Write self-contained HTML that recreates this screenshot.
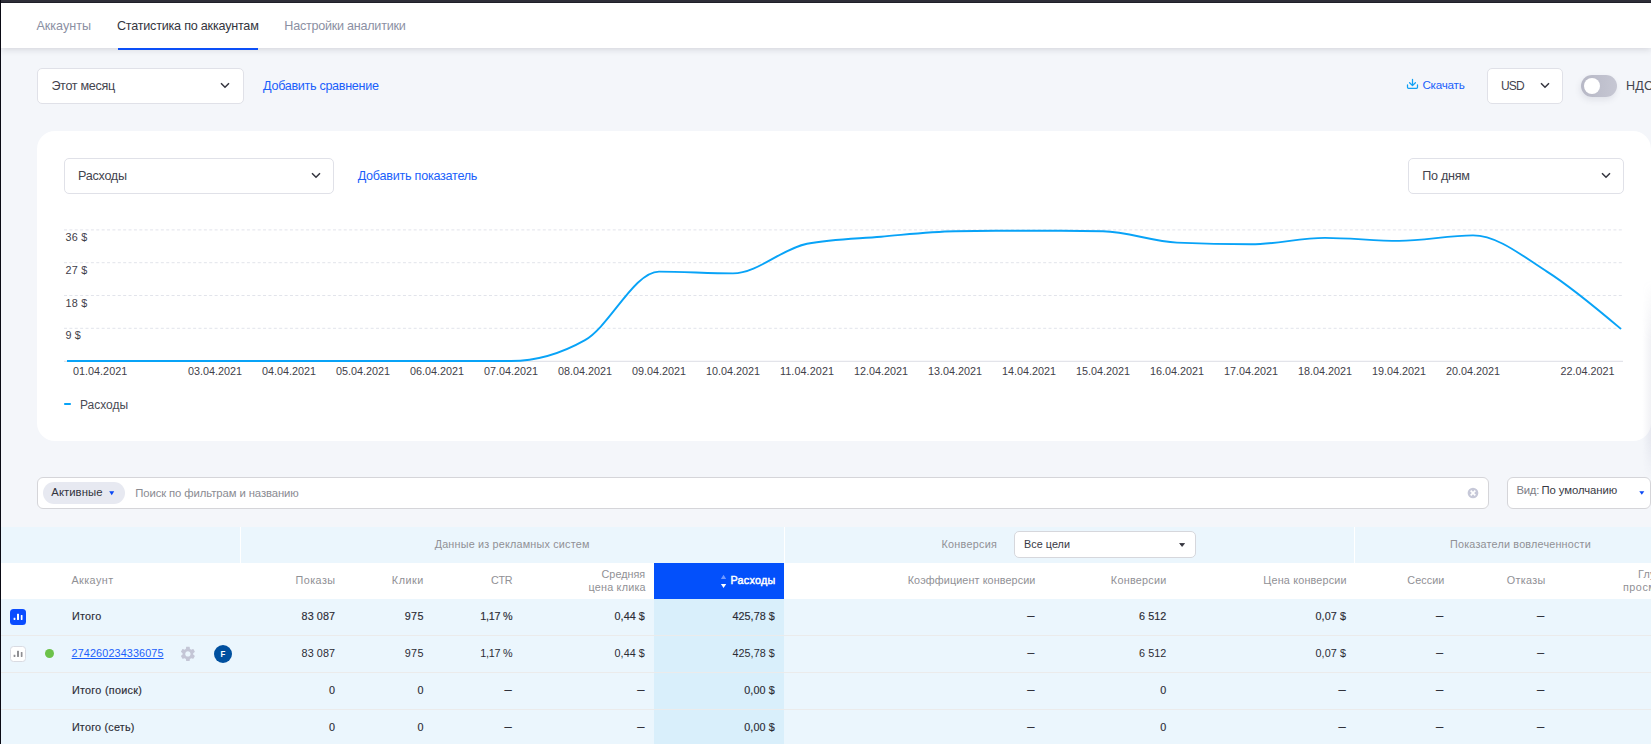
<!DOCTYPE html>
<html lang="ru"><head><meta charset="utf-8"><title>Статистика по аккаунтам</title>
<style>
html,body{margin:0;padding:0}
body{width:1651px;height:744px;overflow:hidden;position:relative;background:#f4f6fa;font-family:"Liberation Sans",sans-serif;}
.a{position:absolute;display:block}
.t{position:absolute;white-space:nowrap;line-height:1;}
.box{position:absolute;box-sizing:border-box;background:#fff;border:1px solid #e0e1e8;border-radius:5px}
</style></head><body>
<!-- chrome -->
<div class="a" style="left:1px;top:3px;width:1650px;height:45px;background:#fff;box-shadow:0 1px 7px rgba(30,30,45,.17)"></div>
<div class="a" style="left:0;top:0;width:1651px;height:2px;background:#2e2e38"></div>
<div class="a" style="left:0;top:2px;width:1651px;height:1px;background:#1f1f29"></div>
<div class="a" style="left:0;top:0;width:1px;height:744px;background:#0a0a14"></div>
<div class="a" style="left:117.5px;top:48px;width:140.5px;height:2px;background:#0c4ff7"></div>
<!-- toolbar -->
<div class="box" style="left:37px;top:68px;width:207px;height:36px"></div>
<svg class="a" style="left:220.1px;top:82.3px" width="10" height="7" viewBox="0 0 10 7"><path d="M1 1.2 L5 5.2 L9 1.2" fill="none" stroke="#33343e" stroke-width="1.5" stroke-linecap="butt" stroke-linejoin="miter"/></svg>
<div class="box" style="left:1487px;top:68px;width:76px;height:36px"></div>
<svg class="a" style="left:1539.5px;top:82.3px" width="10" height="7" viewBox="0 0 10 7"><path d="M1 1.2 L5 5.2 L9 1.2" fill="none" stroke="#33343e" stroke-width="1.5" stroke-linecap="butt" stroke-linejoin="miter"/></svg>
<svg class="a" style="left:1406px;top:78px" width="13" height="12" viewBox="0 0 13 12"><path d="M6.5 1.3 V7.3 M3.6 4.7 L6.5 7.6 L9.4 4.7 M1.5 6.9 V9.3 Q1.5 10.3 2.5 10.3 H10.5 Q11.5 10.3 11.5 9.3 V6.9" fill="none" stroke="#10a0f4" stroke-width="1.25" stroke-linecap="round" stroke-linejoin="round"/></svg>
<div class="a" style="left:1581px;top:75px;width:36px;height:22px;border-radius:11px;background:linear-gradient(90deg,#b7b8c6,#c6c7d3);box-shadow:-1px 3px 6px rgba(60,60,90,.10)"></div>
<div class="a" style="left:1584px;top:78px;width:16px;height:16px;border-radius:50%;background:#fff"></div>
<!-- card -->
<div class="a" style="left:37px;top:131px;width:1614px;height:310px;border-radius:18px;background:#fff"></div>
<div class="a" style="left:1642px;top:280px;width:9px;height:200px;background:linear-gradient(90deg,rgba(120,125,160,0),rgba(120,125,160,.10));-webkit-mask-image:linear-gradient(180deg,transparent 0,#000 30%,#000 80%,transparent 100%)"></div>
<div class="box" style="left:64px;top:158px;width:270px;height:36px"></div>
<svg class="a" style="left:310.5px;top:172.3px" width="10" height="7" viewBox="0 0 10 7"><path d="M1 1.2 L5 5.2 L9 1.2" fill="none" stroke="#33343e" stroke-width="1.5" stroke-linecap="butt" stroke-linejoin="miter"/></svg>
<div class="box" style="left:1408px;top:158px;width:216px;height:36px"></div>
<svg class="a" style="left:1600.5px;top:172.3px" width="10" height="7" viewBox="0 0 10 7"><path d="M1 1.2 L5 5.2 L9 1.2" fill="none" stroke="#33343e" stroke-width="1.5" stroke-linecap="butt" stroke-linejoin="miter"/></svg>
<svg class="a" style="left:0;top:0" width="1651" height="744" viewBox="0 0 1651 744">
<g stroke="#e2e4eb" stroke-width="1" stroke-dasharray="3 2.38"><line x1="64" x2="1623" y1="229.90" y2="229.90"/><line x1="64" x2="1623" y1="262.70" y2="262.70"/><line x1="64" x2="1623" y1="295.50" y2="295.50"/><line x1="64" x2="1623" y1="328.30" y2="328.30"/></g>
<line x1="64" x2="1623" y1="361.3" y2="361.3" stroke="#e3e4ea" stroke-width="1.3"/>
<path d="M67.00,361.00C91.67,361.00,116.33,361.00,141.00,361.00C165.67,361.00,190.33,361.00,215.00,361.00C239.67,361.00,264.33,361.00,289.00,361.00C313.67,361.00,338.33,361.00,363.00,361.00C387.67,361.00,412.33,361.00,437.00,361.00C461.67,361.00,486.33,361.00,511.00,361.00C535.67,361.00,560.33,354.03,585.00,340.10C609.67,326.17,634.33,271.60,659.00,271.60C683.67,271.60,708.33,273.40,733.00,273.40C757.67,273.40,782.33,248.37,807.00,243.70C831.67,239.03,856.33,238.78,881.00,236.70C905.67,234.62,930.33,231.53,955.00,231.20C979.67,230.87,1004.33,230.70,1029.00,230.70C1053.67,230.70,1078.33,230.90,1103.00,231.30C1127.67,231.70,1152.33,241.47,1177.00,242.60C1201.67,243.73,1226.33,244.30,1251.00,244.30C1275.67,244.30,1300.33,237.90,1325.00,237.90C1349.67,237.90,1374.33,240.90,1399.00,240.90C1423.67,240.90,1448.33,235.40,1473.00,235.40C1497.67,235.40,1522.33,256.00,1547.00,271.60C1571.67,287.20,1596.33,308.10,1621.00,329.00" fill="none" stroke="#08a3f7" stroke-width="1.9" stroke-linejoin="round"/>
<rect x="64.2" y="403" width="6.6" height="2" fill="#08a3f7"/>
</svg>
<!-- search -->
<div class="box" style="left:37px;top:477px;width:1452px;height:32px;border-color:#d5d5d9;border-radius:6px"></div>
<div class="a" style="left:43px;top:482px;width:82px;height:22px;border-radius:11px;background:#e7e9f1"></div>
<svg class="a" style="left:109px;top:490.8px" width="6" height="5" viewBox="0 0 6 5"><path d="M0.2 0.2 H5.2 L2.7 4.3 Z" fill="#0a48f5"/></svg>
<svg class="a" style="left:1466.5px;top:487px" width="12" height="12" viewBox="0 0 12 12"><circle cx="6" cy="6" r="5.35" fill="#c6c8d8"/><path d="M3.7 3.7 L8.3 8.3 M8.3 3.7 L3.7 8.3" stroke="#fff" stroke-width="1.75" stroke-linecap="butt"/></svg>
<div class="box" style="left:1507px;top:477px;width:143.6px;height:32px;border-color:#d5d5d9;border-radius:6px"></div>
<svg class="a" style="left:1638.7px;top:491px" width="6" height="4" viewBox="0 0 6 4"><path d="M0.3 0.2 H5.3 L2.8 3.7 Z" fill="#0a48f5"/></svg>
<!-- table -->
<div class="a" style="left:1px;top:527px;width:1650px;height:35.7px;background:#ebf6fd"></div>
<div class="a" style="left:240px;top:527px;width:1.3px;height:36px;background:#fff"></div>
<div class="a" style="left:783.7px;top:527px;width:1.3px;height:36px;background:#fff"></div>
<div class="a" style="left:1354px;top:527px;width:1.3px;height:36px;background:#fff"></div>
<div class="a" style="left:1px;top:562.7px;width:1650px;height:36.1px;background:#fff"></div>
<div class="a" style="left:1px;top:599px;width:1650px;height:145px;background:#ebf6fd"></div>
<div class="a" style="left:654px;top:599px;width:130px;height:145px;background:#d9effb"></div>
<div class="a" style="left:654px;top:563px;width:130px;height:36px;background:#0350fb"></div>
<div class="a" style="left:1px;top:635px;width:1650px;height:1px;background:#ebebeb"></div>
<div class="a" style="left:1px;top:672px;width:1650px;height:1px;background:#ebebeb"></div>
<div class="a" style="left:1px;top:709px;width:1650px;height:1px;background:#ebebeb"></div>
<div class="box" style="left:1014px;top:531px;width:182px;height:26.8px;border-color:#d6d7dc;border-radius:5px"></div>
<svg class="a" style="left:1179px;top:542.6px" width="7" height="4" viewBox="0 0 7 4"><path d="M0.7 0.5 H5.5 L3.1 3.4 Z" fill="#33343e" stroke="#33343e" stroke-width=".8" stroke-linejoin="round"/></svg>
<svg class="a" style="left:720px;top:574px" width="7" height="15" viewBox="0 0 7 15"><path d="M0.9 4.9 L3.55 0.8 L6.2 4.9 Z" fill="#7099ff"/><path d="M0.9 10.1 L6.2 10.1 L3.55 14.1 Z" fill="#fff"/></svg>
<!-- row icons -->
<div class="a" style="left:10px;top:609px;width:16px;height:16px;border-radius:3.5px;background:#0a4cff"></div>
<svg class="a" style="left:10px;top:609px" width="16" height="16" viewBox="0 0 16 16"><g fill="#fff"><rect x="3.6" y="8.8" width="1.8" height="2.1" rx=".3"/><rect x="7" y="4.7" width="2" height="6.2" rx=".4"/><rect x="10.8" y="5.9" width="1.7" height="5" rx=".4"/></g></svg>
<div class="a" style="left:10px;top:646px;width:16px;height:16px;border-radius:3.5px;background:#fff;box-sizing:border-box;border:1px solid #d9dbe2"></div>
<svg class="a" style="left:10px;top:646px" width="16" height="16" viewBox="0 0 16 16"><g fill="#8f8f93"><rect x="3.6" y="8.8" width="1.8" height="2.1" rx=".3"/><rect x="7" y="4.7" width="2" height="6.2" rx=".4"/><rect x="10.8" y="5.9" width="1.7" height="5" rx=".4"/></g></svg>
<div class="a" style="left:45px;top:649px;width:9px;height:9px;border-radius:50%;background:#6cc24a"></div>
<svg class="a" style="left:179.3px;top:645.1px" width="17.8" height="17.8" viewBox="0 0 24 24"><path fill="#c4c6d6" d="M19.14 12.94c.04-.3.06-.61.06-.94 0-.32-.02-.64-.07-.94l2.03-1.58a.49.49 0 0 0 .12-.61l-1.92-3.32a.488.488 0 0 0-.59-.22l-2.39.96c-.5-.38-1.03-.7-1.62-.94l-.36-2.54a.484.484 0 0 0-.48-.41h-3.84c-.24 0-.43.17-.47.41l-.36 2.54c-.59.24-1.13.57-1.62.94l-2.39-.96c-.22-.08-.47 0-.59.22L2.74 8.87c-.12.21-.08.47.12.61l2.03 1.58c-.05.3-.09.63-.09.94s.02.64.07.94l-2.03 1.58a.49.49 0 0 0-.12.61l1.92 3.32c.12.22.37.29.59.22l2.39-.96c.5.38 1.03.7 1.62.94l.36 2.54c.05.24.24.41.48.41h3.84c.24 0 .44-.17.47-.41l.36-2.54c.59-.24 1.13-.56 1.62-.94l2.39.96c.22.08.47 0 .59-.22l1.92-3.32c.12-.22.07-.47-.12-.61l-2.01-1.58zM12 15.6c-1.98 0-3.6-1.62-3.6-3.6s1.62-3.600 3.6-3.600 3.600 1.620 3.600 3.600-1.620 3.600-3.600 3.600z"/></svg>
<div class="a" style="left:214px;top:644.8px;width:18px;height:18px;border-radius:50%;background:#00509f"></div>
<span class="t" style="font-size:12.6px;top:20.00px;color:#8b90a3;letter-spacing:0.007px;left:36.40px;">Аккаунты</span>
<span class="t" style="font-size:12.6px;top:20.00px;color:#34353e;letter-spacing:-0.216px;left:116.90px;">Статистика по аккаунтам</span>
<span class="t" style="font-size:12.6px;top:20.00px;color:#8b90a3;letter-spacing:-0.250px;left:284.30px;">Настройки аналитики</span>
<span class="t" style="font-size:12.6px;top:80.00px;color:#43444e;letter-spacing:-0.327px;left:51.40px;">Этот месяц</span>
<span class="t" style="font-size:12.6px;top:80.00px;color:#1a5ffb;letter-spacing:-0.312px;left:263.10px;">Добавить сравнение</span>
<span class="t" style="font-size:11.7px;top:78.95px;color:#1a5ffb;letter-spacing:-0.233px;left:1422.40px;">Скачать</span>
<span class="t" style="font-size:12px;top:80.30px;color:#43444e;letter-spacing:-0.815px;left:1500.90px;">USD</span>
<span class="t" style="font-size:12.6px;top:80.00px;color:#43444e;letter-spacing:0.160px;left:1626.10px;">НДС</span>
<span class="t" style="font-size:12.6px;top:170.00px;color:#43444e;letter-spacing:-0.283px;left:78.10px;">Расходы</span>
<span class="t" style="font-size:12.6px;top:170.00px;color:#1a5ffb;letter-spacing:-0.251px;left:357.70px;">Добавить показатель</span>
<span class="t" style="font-size:12.6px;top:170.00px;color:#43444e;letter-spacing:-0.249px;left:1422.20px;">По дням</span>
<span class="t" style="font-size:10.8px;top:231.90px;color:#3f4049;letter-spacing:0.246px;left:65.40px;">36 $</span>
<span class="t" style="font-size:10.8px;top:264.90px;color:#3f4049;letter-spacing:0.246px;left:65.40px;">27 $</span>
<span class="t" style="font-size:10.8px;top:297.90px;color:#3f4049;letter-spacing:0.246px;left:65.40px;">18 $</span>
<span class="t" style="font-size:10.8px;top:329.90px;color:#3f4049;letter-spacing:0.161px;left:65.40px;">9 $</span>
<span class="t" style="font-size:10.8px;top:365.90px;color:#3f4049;letter-spacing:0.015px;left:73.00px;">01.04.2021</span>
<span class="t" style="font-size:10.8px;top:365.90px;color:#3f4049;letter-spacing:0.015px;left:187.90px;">03.04.2021</span>
<span class="t" style="font-size:10.8px;top:365.90px;color:#3f4049;letter-spacing:0.015px;left:261.90px;">04.04.2021</span>
<span class="t" style="font-size:10.8px;top:365.90px;color:#3f4049;letter-spacing:0.015px;left:335.90px;">05.04.2021</span>
<span class="t" style="font-size:10.8px;top:365.90px;color:#3f4049;letter-spacing:0.015px;left:409.90px;">06.04.2021</span>
<span class="t" style="font-size:10.8px;top:365.90px;color:#3f4049;letter-spacing:0.015px;left:483.90px;">07.04.2021</span>
<span class="t" style="font-size:10.8px;top:365.90px;color:#3f4049;letter-spacing:0.015px;left:557.90px;">08.04.2021</span>
<span class="t" style="font-size:10.8px;top:365.90px;color:#3f4049;letter-spacing:0.015px;left:631.90px;">09.04.2021</span>
<span class="t" style="font-size:10.8px;top:365.90px;color:#3f4049;letter-spacing:0.015px;left:705.90px;">10.04.2021</span>
<span class="t" style="font-size:10.8px;top:365.90px;color:#3f4049;letter-spacing:0.095px;left:779.90px;">11.04.2021</span>
<span class="t" style="font-size:10.8px;top:365.90px;color:#3f4049;letter-spacing:0.015px;left:853.90px;">12.04.2021</span>
<span class="t" style="font-size:10.8px;top:365.90px;color:#3f4049;letter-spacing:0.015px;left:927.90px;">13.04.2021</span>
<span class="t" style="font-size:10.8px;top:365.90px;color:#3f4049;letter-spacing:0.015px;left:1001.90px;">14.04.2021</span>
<span class="t" style="font-size:10.8px;top:365.90px;color:#3f4049;letter-spacing:0.015px;left:1075.90px;">15.04.2021</span>
<span class="t" style="font-size:10.8px;top:365.90px;color:#3f4049;letter-spacing:0.015px;left:1149.90px;">16.04.2021</span>
<span class="t" style="font-size:10.8px;top:365.90px;color:#3f4049;letter-spacing:0.015px;left:1223.90px;">17.04.2021</span>
<span class="t" style="font-size:10.8px;top:365.90px;color:#3f4049;letter-spacing:0.015px;left:1297.90px;">18.04.2021</span>
<span class="t" style="font-size:10.8px;top:365.90px;color:#3f4049;letter-spacing:0.015px;left:1371.90px;">19.04.2021</span>
<span class="t" style="font-size:10.8px;top:365.90px;color:#3f4049;letter-spacing:0.015px;left:1445.90px;">20.04.2021</span>
<span class="t" style="font-size:10.8px;top:365.90px;color:#3f4049;letter-spacing:0.015px;left:1560.40px;">22.04.2021</span>
<span class="t" style="font-size:12px;top:399.30px;color:#4a4b55;letter-spacing:0.002px;left:79.90px;">Расходы</span>
<span class="t" style="font-size:11.3px;top:486.65px;color:#33343d;letter-spacing:0.058px;left:51.30px;">Активные</span>
<span class="t" style="font-size:11.3px;top:487.65px;color:#8a8b92;letter-spacing:-0.090px;left:135.20px;">Поиск по фильтрам и названию</span>
<span class="t" style="font-size:11.3px;top:484.65px;color:#7c7d85;letter-spacing:-0.195px;left:1516.40px;">Вид:</span>
<span class="t" style="font-size:11.3px;top:484.65px;color:#383944;letter-spacing:-0.059px;left:1541.50px;">По умолчанию</span>
<span class="t" style="font-size:10.8px;top:538.90px;color:#909095;letter-spacing:0.197px;left:512.00px;transform:translateX(-50%);margin-left:0.10px;">Данные из рекламных систем</span>
<span class="t" style="font-size:10.8px;top:538.90px;color:#909095;letter-spacing:0.281px;right:653.82px;">Конверсия</span>
<span class="t" style="font-size:10.8px;top:538.90px;color:#383944;letter-spacing:0.030px;left:1024.10px;">Все цели</span>
<span class="t" style="font-size:10.8px;top:538.90px;color:#909095;letter-spacing:0.203px;left:1520.40px;transform:translateX(-50%);margin-left:0.10px;">Показатели вовлеченности</span>
<span class="t" style="font-size:10.8px;top:574.90px;color:#909095;letter-spacing:0.446px;left:71.40px;">Аккаунт</span>
<span class="t" style="font-size:10.8px;top:574.90px;color:#909095;letter-spacing:0.462px;right:1315.44px;">Показы</span>
<span class="t" style="font-size:10.8px;top:574.90px;color:#909095;letter-spacing:0.562px;right:1227.04px;">Клики</span>
<span class="t" style="font-size:10.8px;top:574.90px;color:#909095;letter-spacing:-0.334px;right:1138.73px;">CTR</span>
<span class="t" style="font-size:10.8px;top:568.90px;color:#909095;letter-spacing:0.024px;right:1005.78px;">Средняя</span>
<span class="t" style="font-size:10.8px;top:581.90px;color:#909095;letter-spacing:0.221px;right:1005.18px;">цена клика</span>
<span class="t" style="font-size:10.8px;top:574.90px;color:#ffffff;letter-spacing:0.249px;right:875.45px;-webkit-text-stroke:0.45px #fff;">Расходы</span>
<span class="t" style="font-size:10.8px;top:574.90px;color:#909095;letter-spacing:0.104px;right:615.50px;">Коэффициент конверсии</span>
<span class="t" style="font-size:10.8px;top:574.90px;color:#909095;letter-spacing:0.262px;right:484.44px;">Конверсии</span>
<span class="t" style="font-size:10.8px;top:574.90px;color:#909095;letter-spacing:0.189px;right:304.21px;">Цена конверсии</span>
<span class="t" style="font-size:10.8px;top:574.90px;color:#909095;letter-spacing:0.088px;right:206.51px;">Сессии</span>
<span class="t" style="font-size:10.8px;top:574.90px;color:#909095;letter-spacing:0.349px;right:105.35px;">Отказы</span>
<span class="t" style="font-size:10.8px;top:568.90px;color:#909095;letter-spacing:0.236px;right:-29.84px;">Глубина</span>
<span class="t" style="font-size:10.8px;top:581.90px;color:#909095;letter-spacing:0.533px;right:-30.13px;">просмотра</span>
<span class="t" style="font-size:10.8px;top:610.90px;color:#2b2c35;letter-spacing:0.261px;left:71.90px;-webkit-text-stroke:0.15px currentColor;">Итого</span>
<span class="t" style="font-size:10.8px;top:610.90px;color:#2b2c35;letter-spacing:0.111px;right:1315.79px;-webkit-text-stroke:0.15px currentColor;">83 087</span>
<span class="t" style="font-size:10.8px;top:610.90px;color:#2b2c35;letter-spacing:0.328px;right:1227.27px;-webkit-text-stroke:0.15px currentColor;">975</span>
<span class="t" style="font-size:10.8px;top:610.90px;color:#2b2c35;letter-spacing:-0.237px;right:1138.64px;-webkit-text-stroke:0.15px currentColor;">1,17 %</span>
<span class="t" style="font-size:10.8px;top:610.90px;color:#2b2c35;letter-spacing:0.045px;right:1006.16px;-webkit-text-stroke:0.15px currentColor;">0,44 $</span>
<span class="t" style="font-size:10.8px;top:610.90px;color:#2b2c35;letter-spacing:0.021px;right:876.28px;-webkit-text-stroke:0.15px currentColor;">425,78 $</span>
<span class="t" style="font-size:13px;top:609.30px;color:#2b2c35;right:616.60px;-webkit-text-stroke:0.15px currentColor;">–</span>
<span class="t" style="font-size:10.8px;top:610.90px;color:#2b2c35;letter-spacing:0.074px;right:484.63px;-webkit-text-stroke:0.15px currentColor;">6 512</span>
<span class="t" style="font-size:10.8px;top:610.90px;color:#2b2c35;letter-spacing:0.095px;right:304.91px;-webkit-text-stroke:0.15px currentColor;">0,07 $</span>
<span class="t" style="font-size:13px;top:609.30px;color:#2b2c35;right:207.70px;-webkit-text-stroke:0.15px currentColor;">–</span>
<span class="t" style="font-size:13px;top:609.30px;color:#2b2c35;right:106.70px;-webkit-text-stroke:0.15px currentColor;">–</span>
<span class="t" style="font-size:10.8px;top:647.90px;color:#2b2c35;letter-spacing:0.111px;right:1315.79px;">83 087</span>
<span class="t" style="font-size:10.8px;top:647.90px;color:#2b2c35;letter-spacing:0.328px;right:1227.27px;">975</span>
<span class="t" style="font-size:10.8px;top:647.90px;color:#2b2c35;letter-spacing:-0.237px;right:1138.64px;">1,17 %</span>
<span class="t" style="font-size:10.8px;top:647.90px;color:#2b2c35;letter-spacing:0.045px;right:1006.16px;">0,44 $</span>
<span class="t" style="font-size:10.8px;top:647.90px;color:#2b2c35;letter-spacing:0.021px;right:876.28px;">425,78 $</span>
<span class="t" style="font-size:13px;top:646.30px;color:#2b2c35;right:616.60px;">–</span>
<span class="t" style="font-size:10.8px;top:647.90px;color:#2b2c35;letter-spacing:0.074px;right:484.63px;">6 512</span>
<span class="t" style="font-size:10.8px;top:647.90px;color:#2b2c35;letter-spacing:0.095px;right:304.91px;">0,07 $</span>
<span class="t" style="font-size:13px;top:646.30px;color:#2b2c35;right:207.70px;">–</span>
<span class="t" style="font-size:13px;top:646.30px;color:#2b2c35;right:106.70px;">–</span>
<span class="t" style="font-size:10.8px;top:684.90px;color:#2b2c35;letter-spacing:0.285px;left:71.90px;-webkit-text-stroke:0.15px currentColor;">Итого (поиск)</span>
<span class="t" style="font-size:10.8px;top:684.90px;color:#2b2c35;right:1315.90px;-webkit-text-stroke:0.15px currentColor;">0</span>
<span class="t" style="font-size:10.8px;top:684.90px;color:#2b2c35;right:1227.60px;-webkit-text-stroke:0.15px currentColor;">0</span>
<span class="t" style="font-size:13px;top:683.30px;color:#2b2c35;right:1139.40px;-webkit-text-stroke:0.15px currentColor;">–</span>
<span class="t" style="font-size:13px;top:683.30px;color:#2b2c35;right:1006.60px;-webkit-text-stroke:0.15px currentColor;">–</span>
<span class="t" style="font-size:10.8px;top:684.90px;color:#2b2c35;letter-spacing:0.095px;right:876.21px;-webkit-text-stroke:0.15px currentColor;">0,00 $</span>
<span class="t" style="font-size:13px;top:683.30px;color:#2b2c35;right:616.60px;-webkit-text-stroke:0.15px currentColor;">–</span>
<span class="t" style="font-size:10.8px;top:684.90px;color:#2b2c35;right:484.70px;-webkit-text-stroke:0.15px currentColor;">0</span>
<span class="t" style="font-size:13px;top:683.30px;color:#2b2c35;right:305.40px;-webkit-text-stroke:0.15px currentColor;">–</span>
<span class="t" style="font-size:13px;top:683.30px;color:#2b2c35;right:207.70px;-webkit-text-stroke:0.15px currentColor;">–</span>
<span class="t" style="font-size:13px;top:683.30px;color:#2b2c35;right:106.70px;-webkit-text-stroke:0.15px currentColor;">–</span>
<span class="t" style="font-size:10.8px;top:721.90px;color:#2b2c35;letter-spacing:0.216px;left:71.90px;-webkit-text-stroke:0.15px currentColor;">Итого (сеть)</span>
<span class="t" style="font-size:10.8px;top:721.90px;color:#2b2c35;right:1315.90px;-webkit-text-stroke:0.15px currentColor;">0</span>
<span class="t" style="font-size:10.8px;top:721.90px;color:#2b2c35;right:1227.60px;-webkit-text-stroke:0.15px currentColor;">0</span>
<span class="t" style="font-size:13px;top:720.30px;color:#2b2c35;right:1139.40px;-webkit-text-stroke:0.15px currentColor;">–</span>
<span class="t" style="font-size:13px;top:720.30px;color:#2b2c35;right:1006.60px;-webkit-text-stroke:0.15px currentColor;">–</span>
<span class="t" style="font-size:10.8px;top:721.90px;color:#2b2c35;letter-spacing:0.095px;right:876.21px;-webkit-text-stroke:0.15px currentColor;">0,00 $</span>
<span class="t" style="font-size:13px;top:720.30px;color:#2b2c35;right:616.60px;-webkit-text-stroke:0.15px currentColor;">–</span>
<span class="t" style="font-size:10.8px;top:721.90px;color:#2b2c35;right:484.70px;-webkit-text-stroke:0.15px currentColor;">0</span>
<span class="t" style="font-size:13px;top:720.30px;color:#2b2c35;right:305.40px;-webkit-text-stroke:0.15px currentColor;">–</span>
<span class="t" style="font-size:13px;top:720.30px;color:#2b2c35;right:207.70px;-webkit-text-stroke:0.15px currentColor;">–</span>
<span class="t" style="font-size:13px;top:720.30px;color:#2b2c35;right:106.70px;-webkit-text-stroke:0.15px currentColor;">–</span>
<span class="t" style="font-size:10.8px;top:647.90px;color:#1a5ffb;letter-spacing:0.128px;left:71.60px;text-decoration:underline;text-underline-offset:1px;text-decoration-thickness:1px;">274260234336075</span>
<span class="t" style="font-size:9.6px;top:649.00px;color:#fff;font-weight:700;left:223.30px;transform:translateX(-50%);margin-left:0.00px;transform:translateX(-50%) scaleX(.82);">F</span>
</body></html>
